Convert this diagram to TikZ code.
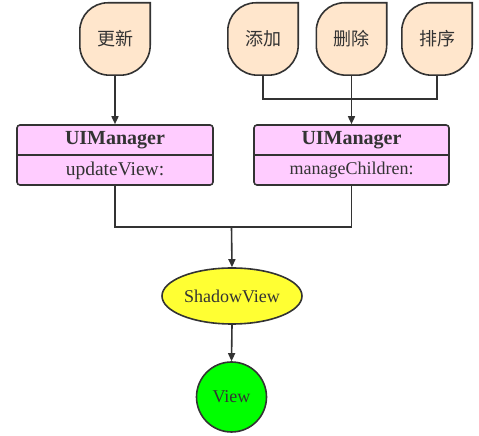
\documentclass[tikz,border=0pt]{standalone}
\usepackage{fontspec}
\setmainfont{Liberation Serif}
\newfontfamily\cjk{Noto Sans CJK SC}
\usetikzlibrary{arrows.meta,shapes.geometric}
\definecolor{stroke}{HTML}{333333}
\definecolor{peach}{HTML}{FFE6CC}
\definecolor{pinkbox}{HTML}{FFCCFF}
\definecolor{yel}{HTML}{FFFF33}
\definecolor{grn}{HTML}{00FF00}
\tikzset{
  leafnode/.style={minimum width=70pt,minimum height=72pt,inner sep=0pt,font=\cjk\fontsize{18}{18}\selectfont,text=stroke},
  leafshape/.style={draw=stroke,line width=1.6pt,fill=peach},
  mgr/.style={draw=stroke,line width=1.6pt,fill=pinkbox,rounded corners=3pt,minimum height=60pt,inner sep=0pt},
  mgrtitle/.style={font=\bfseries\fontsize{20}{20}\selectfont,text=stroke,inner sep=0pt},
  conn/.style={draw=stroke,line width=1.6pt},
  arr/.style={conn,-{Triangle[length=8pt,width=7pt]}},
}
\begin{document}
\begin{tikzpicture}[x=1pt,y=1pt]
\useasboundingbox (0,0) rectangle (479,436);
% leaves
\foreach \nm/\cx/\txt in {gx/115/更新,tj/263/添加,sc/351.5/删除,px/437/排序}{
  \node[leafnode] (\nm) at (\cx,397) {};
  \draw[leafshape] (\nm.north east) -- ([yshift=30pt]\nm.south east)
    arc[start angle=0,end angle=-90,radius=30pt]
    -- ([xshift=30pt]\nm.south west)
    arc[start angle=270,end angle=180,radius=30pt]
    -- ([yshift=-28pt]\nm.north west)
    arc[start angle=180,end angle=90,radius=28pt] -- cycle;
  \node[leafnode] (\nm t) at (\cx,397) {\txt};
}
% managers
\node[mgr,minimum width=196pt] (m1) at (115,281) {};
\node[mgr,minimum width=195pt] (m2) at (351.5,281) {};
\draw[conn] ([yshift=-31pt]m1.north west) -- ([yshift=-31pt]m1.north east);
\draw[conn] ([yshift=-31pt]m2.north west) -- ([yshift=-31pt]m2.north east);
\node[mgrtitle] (m1a) at (115,295.5) {UIManager};
\node[mgrtitle] (m2a) at (351.5,295.5) {UIManager};
\node[font=\fontsize{19.5}{19.5}\selectfont,text=stroke,inner sep=0pt] (m1b) at (115,265.5) {updateView:};
\node[font=\fontsize{18}{18}\selectfont,text=stroke,inner sep=0pt] (m2b) at (351.5,265.5) {manageChildren:};
% shadow view and view
\node[ellipse,draw=stroke,line width=1.6pt,fill=yel,minimum width=140pt,minimum height=56pt,inner sep=0pt,font=\fontsize{18}{18}\selectfont,text=stroke] (sv) at (232,140) {ShadowView};
\node[circle,draw=stroke,line width=1.6pt,fill=grn,minimum size=70pt,inner sep=0pt,font=\fontsize{18}{18}\selectfont,text=stroke] (v) at (231.5,39) {View};
% connectors
\coordinate (j1) at (351.5,337);
\coordinate (j2) at (231.5,209);
\draw[arr] (gx.south) -- (m1.north);
\draw[conn] (tj.south) |- (j1);
\draw[conn] (px.south) |- (j1);
\draw[arr] (sc.south) -- (m2.north);
\draw[conn] (m1.south) |- (j2);
\draw[conn] (m2.south) |- (j2);
\draw[arr] (j2) -- (sv.north);
\draw[arr] (sv.south) -- (v.north);
\end{tikzpicture}
\end{document}
